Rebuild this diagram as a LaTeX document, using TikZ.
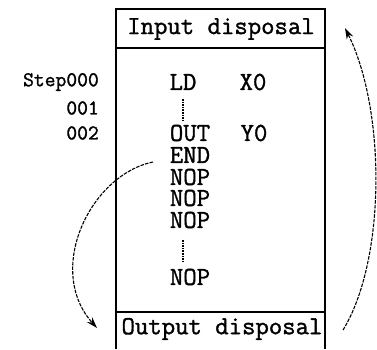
\documentclass[tikz,border=0pt]{standalone}
\usepackage{fontspec}
\newfontfamily\pmono{Latin Modern Mono}[FakeBold=1.3]
\usetikzlibrary{arrows.meta}
\begin{document}
\begin{tikzpicture}[x=1pt,y=1pt,
  hdr/.style={font=\pmono\fontsize{26}{26}\selectfont, inner sep=0pt, anchor=center},
  ins/.style={font=\pmono\fontsize{26}{26}\selectfont, inner sep=0pt, anchor=center},
  stp/.style={font=\pmono\fontsize{21}{21}\selectfont, inner sep=0pt},
  frame/.style={line width=1.4pt},
  flow/.style={line width=1.1pt, dash pattern=on 3.5pt off 1.2pt, -{Stealth[length=11pt,width=7pt]}},
  dots/.style={line width=2pt, dash pattern=on 1.6pt off 1pt}
]
\useasboundingbox (0,0) rectangle (377,-349);
% frame
\draw[frame] (116,-349) -- (116,-9) -- (325,-9) -- (325,-349);
\draw[frame] (116,-48) -- (325,-48);
\draw[frame] (116,-312) -- (325,-312);
% headers
\node[hdr] (inp) at (221,-29) {Input disposal};
\node[hdr] (outp) at (222,-329) {Output disposal};
% step labels
\node[stp, anchor=east] (s0) at (99,-82) {Step000};
\node[stp, anchor=east] (s1) at (99,-108) {001};
\node[stp, anchor=east] (s2) at (99,-133) {002};
% instructions
\node[ins] (ld) at (183,-82) {LD};
\node[ins] (x0) at (253,-82) {X0};
\coordinate (d1a) at (183,-99);
\coordinate (d1b) at (183,-121);
\draw[dots] (d1a) -- (d1b);
\node[ins] (out) at (190,-133) {OUT};
\node[ins] (y0) at (254,-133) {Y0};
\node[ins] (end) at (190,-155) {END};
\node[ins] (n1) at (190,-177) {NOP};
\node[ins] (n2) at (190,-198) {NOP};
\node[ins] (n3) at (190,-220) {NOP};
\coordinate (d2a) at (183,-240);
\coordinate (d2b) at (183,-262);
\draw[dots] (d2a) -- (d2b);
\node[ins] (n4) at (190,-277) {NOP};
% flow arrows
\coordinate (ls) at (153,-162);
\coordinate (le) at (97,-328);
\draw[flow] (ls) .. controls (90,-175) and (45,-270) .. (le);
\coordinate (rs) at (343,-330);
\coordinate (re) at (345,-28);
\draw[flow] (rs) .. controls (386,-260) and (386,-110) .. (re);
\end{tikzpicture}
\end{document}
